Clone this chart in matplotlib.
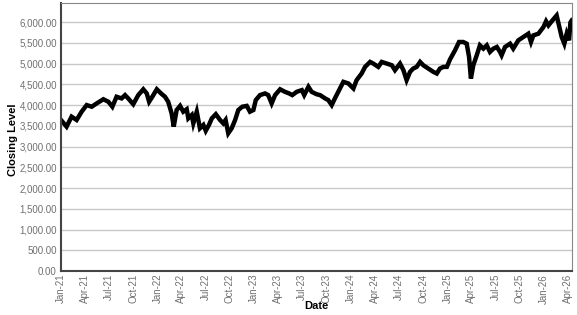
import matplotlib
matplotlib.use("Agg")
import matplotlib.pyplot as plt
import matplotlib.dates as mdates
from matplotlib.ticker import FuncFormatter
import pandas as pd

# closing level
dates = [
    "2021-01-01", "2021-01-22", "2021-02-10", "2021-03-01", "2021-03-20", "2021-04-08",
    "2021-04-27", "2021-05-16", "2021-06-10", "2021-06-29", "2021-07-14", "2021-07-30",
    "2021-08-18", "2021-08-31", "2021-09-12", "2021-10-01", "2021-10-20", "2021-11-08",
    "2021-11-21", "2021-11-30", "2021-12-12", "2021-12-29", "2022-01-14", "2022-01-29",
    "2022-02-10", "2022-02-23", "2022-03-03", "2022-03-14", "2022-03-27", "2022-04-08",
    "2022-04-21", "2022-04-27", "2022-05-10", "2022-05-16", "2022-05-29", "2022-06-10",
    "2022-06-23", "2022-07-02", "2022-07-14", "2022-07-25", "2022-08-09", "2022-08-25",
    "2022-09-06", "2022-09-15", "2022-09-25", "2022-10-08", "2022-10-21", "2022-11-02",
    "2022-11-17", "2022-12-04", "2022-12-16", "2022-12-29", "2023-01-07", "2023-01-23",
    "2023-02-11", "2023-02-23", "2023-03-08", "2023-03-21", "2023-04-09", "2023-04-27",
    "2023-05-13", "2023-05-25", "2023-06-11", "2023-06-30", "2023-07-09", "2023-07-25",
    "2023-08-06", "2023-08-25", "2023-09-07", "2023-09-26", "2023-10-08", "2023-10-21",
    "2023-11-02", "2023-11-18", "2023-12-04", "2023-12-23", "2024-01-11", "2024-01-23",
    "2024-02-11", "2024-02-24", "2024-03-14", "2024-03-26", "2024-04-14", "2024-04-27",
    "2024-05-16", "2024-06-04", "2024-06-16", "2024-07-05", "2024-07-18", "2024-07-30",
    "2024-08-12", "2024-08-24", "2024-09-06", "2024-09-19", "2024-10-01", "2024-10-20",
    "2024-11-08", "2024-11-21", "2024-12-03", "2024-12-16", "2024-12-29", "2025-01-10",
    "2025-01-29", "2025-02-13", "2025-03-01", "2025-03-14", "2025-03-23", "2025-03-30",
    "2025-04-08", "2025-04-21", "2025-05-03", "2025-05-16", "2025-05-29", "2025-06-10",
    "2025-06-23", "2025-07-06", "2025-07-18", "2025-07-24", "2025-08-06", "2025-08-25",
    "2025-09-06", "2025-09-25", "2025-10-14", "2025-11-02", "2025-11-12", "2025-11-21",
    "2025-12-10", "2025-12-29", "2026-01-08", "2026-01-17", "2026-02-01", "2026-02-17",
    "2026-02-27", "2026-03-08", "2026-03-18", "2026-03-27", "2026-04-05", "2026-04-10",
    "2026-04-15",
]
closing = [
    3640, 3480, 3720, 3640, 3840, 4000,
    3960, 4040, 4140, 4080, 3960, 4200,
    4160, 4240, 4160, 4020, 4240, 4380,
    4280, 4080, 4200, 4380, 4280, 4200,
    4080, 3800, 3480, 3880, 3980, 3840,
    3900, 3680, 3760, 3560, 3840, 3440,
    3520, 3380, 3520, 3680, 3780, 3640,
    3560, 3640, 3320, 3440, 3640, 3880,
    3960, 3980, 3840, 3880, 4120, 4240,
    4280, 4240, 4040, 4240, 4380, 4320,
    4280, 4240, 4320, 4360, 4240, 4440,
    4320, 4260, 4240, 4160, 4120, 4000,
    4160, 4360, 4560, 4520, 4400, 4600,
    4760, 4920, 5040, 5000, 4920, 5040,
    5000, 4960, 4840, 5000, 4840, 4600,
    4800, 4880, 4920, 5040, 4960, 4880,
    4800, 4760, 4880, 4920, 4920, 5100,
    5320, 5520, 5520, 5480, 5160, 4640,
    4960, 5200, 5440, 5360, 5440, 5280,
    5360, 5400, 5280, 5200, 5400, 5480,
    5360, 5560, 5640, 5720, 5520, 5680,
    5720, 5880, 6020, 5920, 6040, 6160,
    5880, 5640, 5480, 5720, 5560, 5990,
    6040,
]
y_ticks = [0, 500, 1000, 1500, 2000, 2500, 3000, 3500, 4000, 4500, 5000, 5500, 6000]

x = pd.to_datetime(dates)

plt.rcParams['font.family'] = ['Liberation Sans', 'DejaVu Sans']

fig = plt.figure(figsize=(5.77, 3.15), dpi=100)
ax = fig.add_axes([61/577, 44/315, 511/577, 268/315])

ax.plot(x, closing, color="black", linewidth=3.2, solid_joinstyle="miter")

ax.set_ylim(0, 6460)
ax.set_yticks(y_ticks)
ax.yaxis.set_major_formatter(FuncFormatter(lambda v, p: "{:,.2f}".format(v)))
ax.set_xlim(pd.Timestamp("2021-01-01"), pd.Timestamp("2026-04-16"))
ax.xaxis.set_major_locator(mdates.MonthLocator(bymonth=[1, 4, 7, 10]))
ax.xaxis.set_major_formatter(mdates.DateFormatter("%b-%y"))

ax.grid(axis="y", color="#c8c8c8", linewidth=1.0)
ax.set_axisbelow(True)
ax.tick_params(axis="y", length=0, pad=3, labelsize=7, labelcolor="#707070")
ax.tick_params(axis="x", length=0, pad=2, labelsize=7, labelcolor="#707070", rotation=90)

for side in ["top", "right"]:
    ax.spines[side].set_color("#888888")
    ax.spines[side].set_linewidth(0.8)
for side in ["left", "bottom"]:
    ax.spines[side].set_color("#444444")
    ax.spines[side].set_linewidth(1.5)

fig.text(13/577, 1 - 140/315, "Closing Level", fontsize=8, fontweight="bold",
         rotation=90, ha="center", va="center")
fig.text(316/577, 1 - 306/315, "Date", fontsize=8, fontweight="bold",
         ha="center", va="center")

fig.savefig("out.png", dpi=100)
